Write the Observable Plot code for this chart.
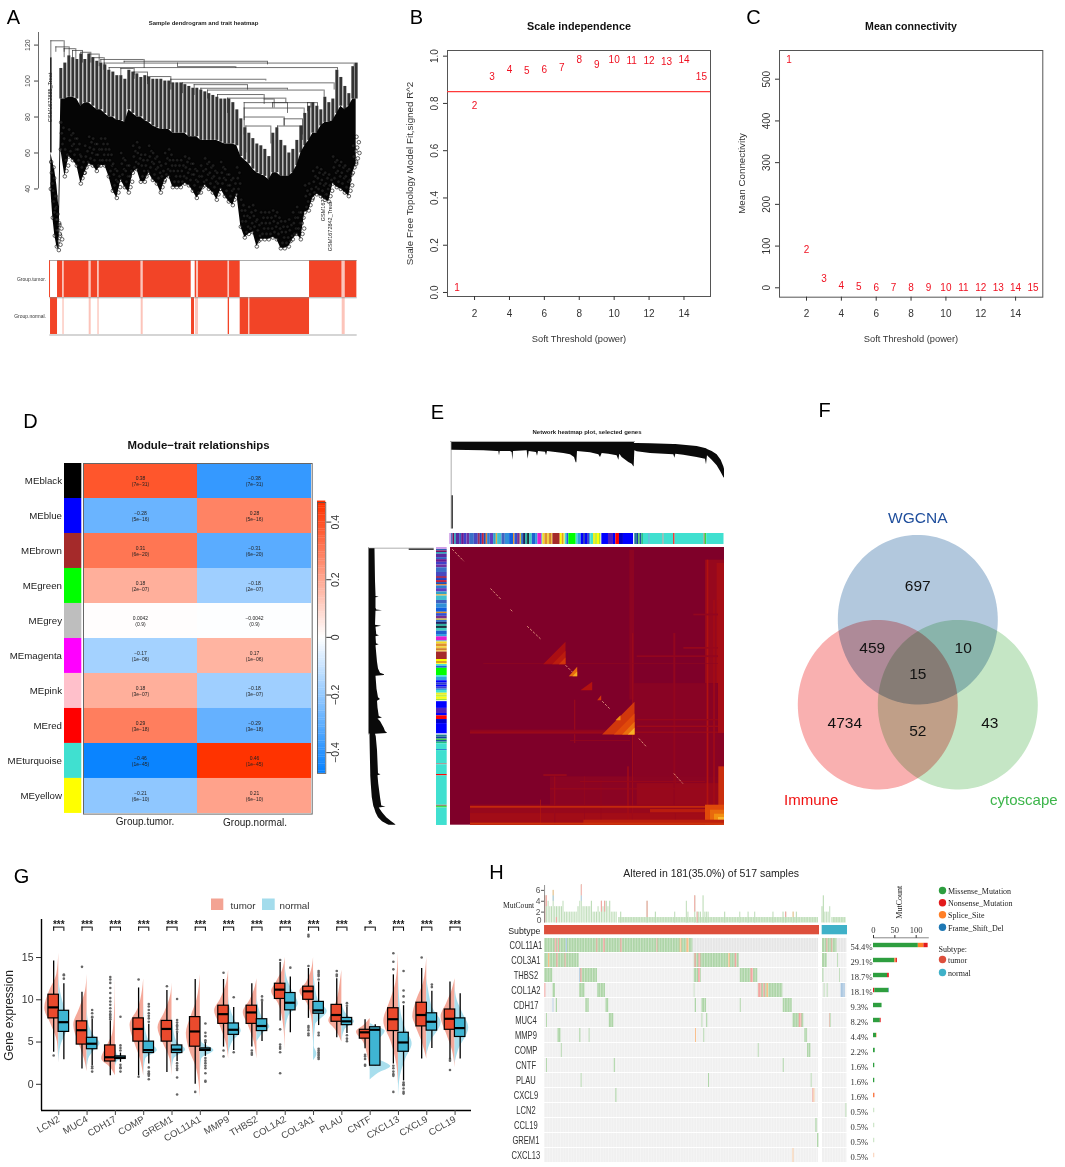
<!DOCTYPE html>
<html><head><meta charset="utf-8">
<script src="https://cdn.jsdelivr.net/npm/d3@7"></script>
<script src="https://cdn.jsdelivr.net/npm/@observablehq/plot@0.6"></script>
<style>
html,body{margin:0;padding:0;background:#fff;overflow:hidden}
#root{position:relative;width:1065px;height:1167px;overflow:hidden;background:#fff}
</style></head><body><div id="root"></div>
<script>
/* ---------- Panel A: sample dendrogram ---------- */
const leafOrder=[150,156,162,168,174,180,192,204,216,228,240,252,264,276,288,300,312,324,336,348,360,372,384,396,408,420,432,444,456,468,480,492,504,516,528,540,552,564,576,588,600,612,624,636,648,660,672,684,696,708,720,732,744,756,768,780,792,804,816,828,840,852,864,876,888,900,912,924,936,948,960,972,984,996,1008,1020,1032,1044,1056,1066];
const leafStem=[113,60,58,50,40,107,110,114,113,112,115,112,115,113,111,110,109,106,105,103,103,101,106,105,104,102,103,102,101,101,101,100,100,99,99,99,98,97,96,96,95,94,93,92,91,90,90,90,88,84,79,74,71,68,65,64,62,58,71,74,67,64,60,62,67,75,82,86,88,86,84,91,88,90,106,102,97,93,108,110];
const leafSolid=[60,55,50,42,30,90,90,91,91,90,86,88,88,86,84,84,82,80,80,78,78,77,84,82,80,80,78,77,75,74,73,73,73,71,71,71,71,69,69,69,67,67,67,67,67,66,65,65,65,64,58,56,54,51,49,48,47,45,49,49,47,47,47,49,53,60,64,67,71,71,75,77,77,78,82,86,84,86,90,90];
const leafBottom=[40,24,14,8,6,62,47,58,56,53,43,49,54,53,50,53,53,47,39,35,45,41,38,49,51,44,44,49,45,43,38,45,47,41,41,41,43,42,39,35,38,42,40,38,34,40,36,33,31,37,19,13,15,16,8,12,12,12,13,12,7,7,8,12,15,12,27,28,35,37,36,34,33,43,41,40,38,36,49,54];
// tree joins: left leaf, right leaf, join height, left drop, right drop
const treeJoins=[[150,190,122.4,113,116],[165,205,119,116,112],[190,225,118,113,112],[215,245,117,112,110],[240,270,116,110,110],[265,295,115,110,108],[275,310,113,107,106],[300,430,112,110,107],[370,800,111,110,109],[310,1060,110,106,108],[530,705,108,110,107],[325,1010,107.5,103,106],[360,400,107,103,103],[400,440,105,101,100],[440,510,102.5,98,98],[510,795,101,95,100],[545,1000,99,93,95],[580,740,98,92,95],[600,860,96,90,95],[620,970,95,90,91],[650,790,92.5,88,90],[680,855,90.5,82,88],[730,930,88,80,85],[730,910,85,78,80],[730,850,80,70,75],[735,810,75,60,65],[830,905,75,62,67],[850,905,79,75,70],[790,820,90,87,85],[815,860,88,85,82],[920,950,88,83,85]];
const traitTumor=[[148,151,1],[172,188,1],[188,192,.3],[192,267,1],[267,273,.3],[273,293,1],[293,297,.3],[297,423,1],[423,429,.3],[429,573,1],[585,590,1],[590,595,.3],[595,684,1],[684,688,.3],[688,720,1],[928,1026,1],[1026,1035,.3],[1035,1070,1]];
const traitNormal=[[151,172,1],[188,192,.3],[267,273,.3],[293,297,.3],[423,429,.3],[574,583,1],[586,595,.3],[684,688,1],[720,745,1],[745,749,.4],[749,928,1],[1026,1035,.3]];

/* ---------- Panels B, C ---------- */
const powers=[1,2,3,4,5,6,7,8,9,10,11,12,13,14,15];
const scaleFit=[.02,.788,.911,.944,.938,.941,.952,.983,.963,.983,.982,.98,.977,.986,.913];
const meanConnectivity=[547,90,21,6,1.5,.7,.4,.3,.2,.1,.1,.1,.1,.05,.05];

/* ---------- Panel D ---------- */
const modules=["MEblack","MEblue","MEbrown","MEgreen","MEgrey","MEmagenta","MEpink","MEred","MEturquoise","MEyellow"];
const moduleColors=["#000000","#0000ff","#a52a2a","#00ff00","#bebebe","#ff00ff","#ffc0cb","#ff0000","#40e0d0","#ffff00"];
const tumorCor=[.38,-.28,.31,.18,.0042,-.17,.18,.29,-.46,-.21];
const corP=["7e\u221231","5e\u221216","6e\u221220","2e\u221207","0.9","1e\u221206","3e\u221207","3e\u221218","1e\u221245","6e\u221210"];
const traits=["Group.tumor.","Group.normal."];

/* ---------- Panel E ---------- */
const dendroRank=[304,306,400,440,445,447,449,480,485,487,489,530,533,536,558,561,564,585,588,591,640,660,672,677,679,681,720,745,750,755,775,800,805,808,815,835,845,850,851,853,860,900,970,973,976,1000,1040,1065,1068,1071,1085,1100,1112,1120,1122];
const dendroTop=[3,3,3,3,3,3,3,3,3,3,3,3,3,3,3,3,3,3,3,3,3,3,3,3,3,3,3,3,3,3,3,3,3,3,3,3,3,3,3,6,6,7,9,9,9,11,15,21,22,24,30,40,56,76,83];
const dendroBottom=[26,26,28,30,30,43,30,30,33,56,30,28,53,30,33,44,30,32,43,30,36,40,48,64,64,30,34,40,48,36,38,43,56,38,48,63,68,76,76,28,31,36,40,50,38,41,48,53,70,43,56,73,93,108,110];
const moduleRunStart=[298,304,308,313,318,328,334,342,350,358,372,384,390,396,402,408,412,420,430,438,442,455,465,478,490,494,502,510,514,520,526,532,538,546,556,563,574,578,584,592,598,604,608,630,636,642,645,650,656,678,683,693,700,706,712,718,722,730,736,742,748,753,755,775,790,797,808,820,851,854,860,866,870,875,880,897,900,939,942,971,975,1062,1066,1070,1122];
const moduleRunColor=["#cfa0e8","#2a5db0","#7a1060","#1fa0b8","#5a2aa0","#3060c0","#6a1a90","#4040c8","#7030a0","#3a70c8","#4848c0","#a03060","#2040c0","#c02040","#2050b0","#e08030","#3080d0","#6040c0","#30a0c8","#e0b040","#40c0d0","#4060c0","#3090d8","#1060e0","#e09020","#3050d0","#7a3090","#d0c040","#3070c8","#202060","#30b0a0","#203040","#40d0c0","#2060d0","#30a0e0","#e020d0","#80a0d0","#f0e020","#e09030","#f0d040","#d08030","#f0c040","#a52a2a","#ffff00","#e0a020","#ffff30","#40e0d0","#2060e0","#00ff00","#40e0d0","#30a0e0","#0000ff","#3040c0","#0000ff","#4040d0","#30a0e0","#40e0d0","#f0f020","#c0f040","#ffff00","#a0e040","#ffffff","#0000ff","#5020c0","#0000ff","#ff0000","#0000cc","#0000ff","#ffffff","#208090","#1040a0","#40d040","#2050a0","#20c080","#40e0d0","#2080d0","#40e0d0","#a08080","#40e0d0","#ff0000","#40e0d0","#909070","#30e040","#40e0d0"];
// overlap blocks: gene-rank x1,x2, gene-rank y1,y2, overlap value
const overlapBlocks=[[1065,1122,480,1275,.12],[1100,1122,490,1275,.2],[850,1122,850,1275,.05],[600,1122,1130,1275,.06],[860,1122,1150,1275,.13],[360,1122,1215,1275,.13],[360,1122,1240,1275,.18],
[838,852,450,900,.07],[846,850,700,1000,.14],[1070,1075,480,1275,.26],[1090,1094,600,1275,.2],[970,976,700,1215,.1],[975,977,1122,1275,.14],[702,704,1130,1275,.12],[612,616,1130,1275,.14],[570,572,1200,1275,.28],[752,754,1140,1275,.12],[832,836,1100,1275,.2],[846,849,1000,1275,.16],[672,676,900,1030,.12],
[360,850,990,1003,.08],[360,1122,996,999,.18],[400,1122,790,792,.09],[860,1122,767,772,.1],[860,1122,958,962,.13],[860,1122,978,982,.16],[1000,1122,742,747,.13],[1030,1122,642,647,.1],[360,1122,1219,1224,.36],[600,1065,1166,1169,.15],[690,1065,1144,1147,.13],[580,650,1124,1128,.18],[660,840,1021,1023,.13],[1104,1122,600,1000,.2],
[1105,1122,1100,1275,.38],[1065,1122,1215,1275,.5],[1080,1122,1230,1275,.6],[1092,1122,1242,1275,.72],[1104,1122,1252,1275,.85],[1114,1122,1264,1275,1],[700,1122,1260,1275,.32],[360,1122,1269,1275,.4],[900,1065,1228,1238,.3]];
// hot triangles below the diagonal: left x, base y, corner x, tip y, overlap value
const hotTriangles=[[755,1003,852,905,.42],[790,1003,852,940,.5],[815,1003,852,965,.62],[832,1003,852,983,.82],[578,792,645,725,.22],[605,792,645,752,.3],[625,792,645,772,.42],[655,828,680,800,.6],[666,828,680,814,.8],[690,870,725,845,.26],[740,900,752,885,.42],[795,960,810,945,.7]];
// dashed runs along the diagonal: x1,y1,x2,y2
const diagonalRuns=[[305,447,340,483],[420,565,452,598],[480,628,488,636],[530,678,570,716],[645,795,665,815],[755,903,780,928],[865,1015,888,1040],[970,1120,997,1150]];

/* ---------- Panel F ---------- */
const vennCx=[917.3,877.3,957.3], vennCy=[619.2,704.2,704.2], vennFill=["#b2c8dd","#f9b0b0","#c5e6c5"];

/* ---------- Panel G ---------- */
const genes=["LCN2","MUC4","CDH17","COMP","GREM1","COL11A1","MMP9","THBS2","COL1A2","COL3A1","PLAU","CNTF","CXCL13","CXCL9","CCL19"];
const stars=["***","***","***","***","***","***","***","***","***","***","***","*","***","***","***"];
const tumorLow=[3.8,1.8,1,1,1.4,0,4.4,4.4,7.5,7.8,5.5,4.2,2.4,3,3];
const tumorQ1=[7.8,4.7,2.7,5.05,5.05,4.45,7.15,7.15,10.1,10,7.4,5.4,6.3,6.85,6.45];
const tumorMedian=[9.1,6.4,3.2,6.55,6.55,6.25,8.3,8.5,11.2,11,8.2,6.15,7.7,8.2,7.75];
const tumorQ3=[10.6,7.45,4.6,7.8,7.5,7.95,9.3,9.3,11.9,11.55,9.4,6.45,9,9.65,8.85];
const tumorHigh=[14.6,10.9,7.5,11.4,11.1,12.4,12.4,11.9,14.4,13.7,12.5,7.65,12.95,13.7,12.1];
const normalLow=[2.9,2.2,2.6,2.4,2.7,3.3,4,5.05,6.1,6.95,6,2.2,.4,4.25,3];
const normalQ1=[6.2,4.15,3,3.7,3.7,3.95,5.85,6.3,8.75,8.35,7,2.2,3.85,6.35,5.6];
const normalMedian=[7.35,4.8,3.15,4.05,4.1,4.1,6.45,6.9,9.65,8.75,7.45,6.45,4.95,7.4,6.65];
const normalQ3=[8.7,5.5,3.3,5.05,4.6,4.25,7.2,7.7,10.8,9.75,7.85,6.75,6.1,8.4,7.8];
const normalHigh=[11.9,7.7,3.7,7.1,6,4.9,9.1,9.7,12.7,12.1,9.1,7.05,9.3,11,10.7];
const tumorOutliers=[[3.4],[13.9],[7.7,7.9,8.1,8.3,8.6,9,9.4,9.8,10.2,10.8,11.4,12,12.4,12.7],[12.4,.9],[11.6],[-.9],[13.2,4,3.3],[4,3.7,3.5],[14.7,6.5,4.7,4.4,4.2,3.8,1.3],[17.7,17.5,14,6.9,6.7,6.4,6,5.8],[13.4,13,12.8],[3.5,3.3,3,2.3,2.2],[15.5,14.5,13.6,2.2,1.9,1.5,1.2,1,-.9],[15],[3,2.8,1.7]];
const normalOutliers=[[12.5,12.9,13],[8.8,8.4,8,7.9,2.1,1.9,1.5],[4.6,4.3,4,2.3,2,1.9,1.5,8],[7.4,7.8,8.1,8.4,8.8,9.2,9.5,2,1.5,1.3,1.2,1,.6],[6.2,6.5,6.8,7,7.3,7.6,10.1,2.5,2.2,1.9,1.7,.8,-1.2],[7.2,6.1,5.7,5.2,5,3.1,2.8,2.5,2.2,1.9,1.3,.4,.3],[10.3,3.8],[10.4,10,9.9],[13.8],[13.4,13.2,13,12.8,12.4,6.1,5.8,4.2,4,3.8,3.6,3.4,3.2,3],[9.6,9.3,5.8,5.4,5.1],[],[13.4,11.1,10.4,9.7,.2,0,-.1,-.5,-.9,-1.1],[11.8,11.5],[]];
const tumorViolinY=[[2.5,5,7,9,11,13,15.5],[1.5,3,5,7,9,11,13],[1,2,3,4.5,6,8,12.5],[1,3,5,7,9,11,12.5],[1,3,5,6.7,8.5,10.5,12],[-1.5,2,4,6,8,10,13],[3,5,7,8.7,10,12,13.5],[3,5,7,8.5,10,11.5,12.5],[4,7,9.5,11,12,13.5,15],[5,8,9.5,11,12,13.5,15],[5,6.5,7.5,8.5,10,12,13.5],[1.8,3.5,5,6.2,7,7.8],[0,3,5,7.5,9.5,12,15.5],[3,5,7,8,10,12,15],[2,4,6,8,9.5,11,12.5]];
const tumorViolinD=[[0,4,22,42,28,6,0],[0,8,26,40,22,5,0],[0,15,41,25,8,3,0],[0,10,28,41,16,4,0],[0,6,28,42,22,4,0],[0,12,32,42,28,10,0],[0,8,26,42,25,6,0],[0,8,26,41,20,5,0],[0,5,20,41,28,8,0],[0,6,18,41,22,6,0],[0,20,39,28,14,5,0],[0,8,20,41,18,0],[0,8,22,44,28,8,0],[0,14,34,42,30,10,0],[0,8,26,42,26,10,0]];
const normalViolinY=[[2.5,4.5,6,7.2,9,11,13],[1.5,3,4,4.8,5.8,7,9],[2,2.7,3.1,3.5,4.5],[1,3,4,5,7,9.5],[1.5,3,4.1,5,7,8],[1,3,4,5,7],[3.5,5,6.3,7.5,9,10.5],[5,6,6.8,7.8,9,10.5],[6,8,9.5,11,12.5,14],[2.8,3.6,4.5,7,8.6,10,12,13.5],[5,6.5,7.4,8.2,9.5],[.5,1.3,2.1,3,4,5,6.3,7,7.2],[-1.5,1,3,4.8,6.5,9,13.5],[3.5,5,7.3,9,11,12.5],[2.5,4,6.7,8.5,10,11.5]];
const normalViolinD=[[0,6,22,31,18,5,0],[0,5,22,39,20,6,0],[0,6,31,6,0],[0,6,41,18,4,0],[0,6,41,15,3,0],[0,4,41,4,0],[0,12,38,20,5,0],[0,18,39,18,6,0],[0,10,39,22,6,0],[0,10,2,6,41,14,4,0],[0,10,38,16,0],[0,25,62,25,14,22,45,10,0],[0,6,22,41,22,6,0],[0,12,43,18,6,0],[0,10,41,22,6,0]];

/* ---------- Panel H ---------- */
const onco=["COL11A1","COL3A1","THBS2","COL1A2","CDH17","MUC4","MMP9","COMP","CNTF","PLAU","CXCL9","LCN2","CCL19","GREM1","CXCL13"];
const altered=["54.4%","29.1%","18.7%","18.1%","9.3%","8.2%","4.4%","2.2%","1.6%","1.6%","1.6%","0.5%","0.5%","0.5%","0.5%"];
const mutPale={m:"#aed5a8",n:"#f3a5a1",s:"#f9bf8c",f:"#a9c6e0"};
const mutSolid={m:"#2e9e3f",n:"#e31a1c",s:"#ff7f27",f:"#1f78b4"};
const oncoRuns={
COL11A1:[[163,608,"m"],[195,200,"n"],[205,208,"n"],[228,232,"f"],[320,323,"n"],[340,345,"n"],[392,396,"n"],[500,503,"n"],[570,575,"s"],[590,597,"s"],[997,1040,"m"],[1010,1013,"n"],[1025,1028,"n"]],
COL3A1:[[163,267,"m"],[175,179,"s"],[200,204,"n"],[225,228,"n"],[612,747,"m"],[614,618,"n"],[626,632,"n"],[715,720,"s"],[735,740,"n"],[997,1011,"m"],[1042,1045,"m"]],
THBS2:[[163,188,"m"],[268,322,"m"],[268,272,"f"],[272,276,"n"],[612,633,"m"],[625,631,"n"],[750,803,"m"],[782,790,"n"],[998,1001,"m"],[1048,1050,"m"]],
COL1A2:[[163,167,"n"],[188,196,"m"],[268,285,"m"],[322,346,"m"],[612,614,"m"],[804,878,"m"],[805,815,"n"],[820,825,"n"],[830,835,"s"],[1002,1005,"m"],[1011,1014,"m"],[1052,1065,"f"]],
CDH17:[[188,191,"f"],[198,202,"m"],[287,297,"m"],[347,356,"m"],[615,619,"m"],[635,649,"m"],[750,753,"m"],[879,906,"m"]],
MUC4:[[169,172,"m"],[357,371,"m"],[635,638,"m"],[649,653,"m"],[908,941,"m"],[927,935,"n"],[1018,1023,"m"],[1018,1020,"n"]],
MMP9:[[203,213,"m"],[268,272,"m"],[297,300,"m"],[616,619,"s"],[641,644,"m"],[944,952,"m"]],
COMP:[[213,216,"m"],[804,807,"m"],[952,962,"m"]],
CNTF:[[169,172,"m"],[372,376,"m"],[879,882,"m"]],
PLAU:[[273,276,"m"],[655,658,"m"],[963,966,"m"]],
CXCL9:[[377,381,"m"],[968,971,"n"],[971,974,"s"]],
LCN2:[[1067,1070,"m"]],
CCL19:[[977,982,"m"]],
GREM1:[[982,986,"m"]],
CXCL13:[[908,911,"s"]]};
const mutBarsX=[165,170,175,180,185,190,195,200,205,210,215,220,225,230,235,240,245,250,255,260,265,270,275,280,285,290,295,300,305,310,315,320,325,330,335,340,345,350,355,360,365,370,375,380,393,472,497,555,590,595,615,622,627,632,640,645,650,655,705,750,775,795,850,880,888,910,920,997,1001,1005,1010,1015,1020];
const mutBarsN=[5,5,4,3,3,6,3,3,3,3,3,4,2,2,2,2,2,2,2,2,3,4,7,3,3,3,3,3,4,2,2,2,3,2,4,3,4,4,3,4,2,2,2,2,2,4,2,2,4,2,5,2,2,2,5,2,2,2,2,2,2,2,2,2,2,2,2,3,5,2,2,2,3];
const mutBarsBase=[[385,985,1],[1025,1068,1]];
const mutAccents=[[170,3,5,"n"],[190,4,5,"f"],[190,5,6,"s"],[200,0,1,"n"],[275,4,5,"f"],[275,5,7,"n"],[335,2,4,"n"],[345,2,4,"n"],[472,1,4,"n"],[615,2,5,"n"],[622,0,2,"n"],[888,1,2,"n"],[910,1,2,"s"],[165,0,5,"n"]];
const cohortTotals={COL11A1:[[105,"m"],[13,"s"],[10,"n"]],COL3A1:[[50,"m"],[3,"s"],[3,"n"]],THBS2:[[33,"m"],[4,"n"]],COL1A2:[[3,"n"],[33,"m"],[1,"f"]],CDH17:[[20,"m"]],MUC4:[[16,"m"],[2,"n"]],MMP9:[[7,"m"],[1,"s"]],COMP:[[4,"m"]],CNTF:[[3,"m"]],PLAU:[[3,"m"]],CXCL9:[[2,"s"],[1,"n"]],LCN2:[[3,"p"]],CCL19:[[3,"p"]],GREM1:[[3,"p"]],CXCL13:[[3,"q"]]};

/* ---------- helpers ---------- */
const root=document.getElementById("root");
const sans="Liberation Sans, Arial, sans-serif";
const serif="Liberation Serif, Times New Roman, serif";
function place(left,top,spec){
  const p=Plot.plot({margin:0,style:{background:"transparent",overflow:"visible",fontFamily:sans},...spec});
  p.style.position="absolute";p.style.left=left+"px";p.style.top=top+"px";p.style.maxWidth="none";
  root.append(p);
  return p;
}

/* ---------- A ---------- */
const leaves=leafOrder.map((x,i)=>({x,stem:leafStem[i],solid:leafSolid[i],bottom:leafBottom[i]}));
const leafRings=leaves.flatMap(d=>[0,1,2,3,4,5].map(k=>({x:d.x+(k*5)%12,y:d.bottom+k*3})));
place(37.7,32,{width:319,height:223,x:{domain:[113,1070],axis:null},y:{domain:[3,127],axis:null},marks:[
  Plot.ruleX(leaves.filter(d=>d.x>=180),{x:"x",y1:"stem",y2:"solid",stroke:"#111",strokeWidth:3,strokeOpacity:.85}),
  Plot.ruleX([150],{y1:113,y2:60,stroke:"#222",strokeWidth:1.6}),
  Plot.ruleY(treeJoins,{x1:d=>d[0],x2:d=>d[1],y:d=>d[2],stroke:"#333",strokeWidth:.7}),
  Plot.ruleX(treeJoins,{x:d=>d[0],y1:d=>d[2],y2:d=>d[3],stroke:"#333",strokeWidth:.7}),
  Plot.ruleX(treeJoins,{x:d=>d[1],y1:d=>d[2],y2:d=>d[4],stroke:"#333",strokeWidth:.7}),
  Plot.areaY(leaves,{x:"x",y1:"solid",y2:"bottom",fill:"#050505"}),
  Plot.dot(leafRings,{x:"x",y:"y",r:1.8,stroke:"#000",strokeWidth:.6,fill:"#fff",fillOpacity:.1}),
  Plot.ruleX([113],{y1:40,y2:127,stroke:"#444",strokeWidth:.8}),
  Plot.axisY({ticks:[40,60,80,100,120],tickSize:4,tickRotate:-90,fontSize:7,color:"#444",label:null,tickPadding:5})
]});
const traitRows=[...traitTumor.map(d=>({x1:d[0],x2:d[1],v:d[2],row:"Group.tumor."})),...traitNormal.map(d=>({x1:d[0],x2:d[1],v:d[2],row:"Group.normal."}))];
place(49.3,260,{width:307.4,height:74.5,x:{domain:[148,1070],axis:null},y:{type:"band",domain:traits,padding:0,axis:null},
  color:{type:"identity"},marks:[
  Plot.barX(traitRows,{x1:"x1",x2:"x2",y:"row",fill:d=>d.v==1?"#f24427":"#fcc4ba"}),
  Plot.text(traits,{y:d=>d,text:d=>d,frameAnchor:"left",textAnchor:"end",dx:-3.5,fontSize:5,fill:"#333"})
]});

/* ---------- B, C ---------- */
const rAxes=(yt)=>[
  Plot.frame({stroke:"#555",strokeWidth:1}),
  Plot.axisX({ticks:[2,4,6,8,10,12,14],tickSize:4,tickPadding:9,fontSize:10,color:"#333",label:null}),
  Plot.axisY({ticks:yt,tickSize:4,tickPadding:6,tickRotate:-90,fontSize:10,color:"#333",label:null})
];
place(447.3,50,{width:263,height:246,x:{domain:[.45,15.52],axis:null},y:{domain:[-.017,1.024],axis:null},marks:[
  ...rAxes([0,.2,.4,.6,.8,1]),
  Plot.ruleY([.85],{stroke:"#ff3a3a",strokeWidth:1.1}),
  Plot.text(powers,{x:d=>d,y:(d,i)=>scaleFit[i],text:d=>String(d),fill:"#f01020",fontSize:10})
]});
place(779,50,{width:263.3,height:246.7,x:{domain:[.45,15.56],axis:null},y:{domain:[-22.5,568.8],axis:null},marks:[
  ...rAxes([0,100,200,300,400,500]),
  Plot.text(powers,{x:d=>d,y:(d,i)=>meanConnectivity[i],text:d=>String(d),fill:"#f01020",fontSize:10})
]});

/* ---------- D ---------- */
const corColor={type:"linear",domain:[-.46,0,.46],range:["#0a84ff","#ffffff","#ff3300"]};
place(64,462.7,{width:17.3,height:350.6,x:{axis:null,domain:[0,1]},y:{type:"band",domain:modules,padding:0,axis:null},color:{type:"identity"},marks:[
  Plot.barX(modules,{x1:0,x2:1,y:d=>d,fill:(d,i)=>moduleColors[i]}),
  Plot.text(modules,{y:d=>d,text:d=>d,frameAnchor:"left",textAnchor:"end",dx:-2.5,fontSize:9.7,fill:"#222"})
]});
const fmtCor=v=>(v<0?"\u2212":"")+(Math.abs(v)<.01?Math.abs(v).toFixed(4):String(+Math.abs(v).toFixed(2)));
const corCells=modules.flatMap((m,i)=>[{m,t:traits[0],r:tumorCor[i],p:corP[i]},{m,t:traits[1],r:-tumorCor[i],p:corP[i]}]);
place(83.3,462.7,{width:228.7,height:350.6,x:{type:"band",domain:traits,padding:0,axis:null},y:{type:"band",domain:modules,padding:0,axis:null},color:corColor,marks:[
  Plot.cell(corCells,{x:"t",y:"m",fill:"r"}),
  Plot.text(corCells,{x:"t",y:"m",text:d=>fmtCor(d.r)+"\n("+d.p+")",fontSize:5,lineHeight:1.3,fill:"#222"}),
  Plot.frame({stroke:"#666",strokeWidth:1})
]});
const barLevels=d3.range(-.472,.468,.008);
place(317,502,{width:8.3,height:271,x:{domain:[0,1],axis:null},y:{domain:[-.472,.468],axis:null},color:corColor,marks:[
  Plot.rect(barLevels,{x1:0,x2:1,y1:d=>d,y2:d=>d+.009,fill:d=>d+.004}),
  Plot.frame({stroke:"#555",strokeWidth:.8}),
  Plot.axisY({anchor:"right",ticks:[-.4,-.2,0,.2,.4],tickFormat:d=>d===0?"0":d3.format(".1f")(d).replace("-","\u2212"),tickSize:5,tickPadding:8,tickRotate:-90,fontSize:10.5,color:"#333",label:null})
]});

/* ---------- E ---------- */
const dendroRows=dendroRank.map((r,i)=>({r,t:dendroTop[i],b:dendroBottom[i]}));
place(450,440.7,{width:274,height:87.6,x:{domain:[300,1122],axis:null},y:{domain:[263,0],axis:null},marks:[
  Plot.ruleY([0],{x1:300,x2:855,stroke:"#999",strokeWidth:.8}),
  Plot.ruleX([302],{y1:0,y2:263,stroke:"#999",strokeWidth:.8}),
  Plot.ruleX([305],{y1:163,y2:263,stroke:"#111",strokeWidth:1.2}),
  Plot.areaY(dendroRows,{x:"r",y1:"t",y2:"b",fill:"#0a0a0a"})
]});
place(367.7,547.3,{width:65.7,height:277.7,x:{domain:[0,263],axis:null},y:{domain:[1122,300],axis:null},marks:[
  Plot.ruleX([0],{y1:300,y2:855,stroke:"#999",strokeWidth:.8}),
  Plot.ruleY([302],{x1:0,x2:263,stroke:"#999",strokeWidth:.8}),
  Plot.ruleY([305],{x1:163,x2:263,stroke:"#111",strokeWidth:1.2}),
  Plot.areaX(dendroRows,{y:"r",x1:"t",x2:"b",fill:"#0a0a0a"})
]});
const runRows=moduleRunColor.map((c,i)=>({a:moduleRunStart[i],b:moduleRunStart[i+1],c}));
place(449.3,533.3,{width:274.7,height:11,x:{domain:[298,1122],axis:null},y:{domain:[0,1],axis:null},color:{type:"identity"},marks:[
  Plot.rect(runRows,{x1:"a",x2:"b",y1:0,y2:1,fill:"c"})]});
place(436,546.7,{width:10.7,height:278.3,x:{domain:[0,1],axis:null},y:{domain:[1122,298],axis:null},color:{type:"identity"},marks:[
  Plot.rect(runRows,{y1:"a",y2:"b",x1:0,x2:1,fill:"c"})]});
const heatDomain=[0,.25,.5,.75,1], heatRange=["#7f0029","#b01010","#e04a0a","#f59a12","#ffe860"];
const heatFill=d3.scaleLinear(heatDomain,heatRange);
place(450,547.3,{width:274,height:277.7,x:{domain:[300,1122],axis:null},y:{domain:[1275,442],axis:null},color:{type:"linear",domain:heatDomain,range:heatRange},marks:[
  Plot.rect([0],{x1:300,x2:1122,y1:442,y2:1275,fill:()=>0}),
  Plot.rect(overlapBlocks,{x1:d=>d[0],x2:d=>d[1],y1:d=>d[2],y2:d=>d[3],fill:d=>d[4]}),
  ...hotTriangles.map(t=>Plot.line([[t[0],t[1]],[t[2],t[1]],[t[2],t[3]],[t[0],t[1]]],{x:d=>d[0],y:d=>d[1],fill:heatFill(t[4]),stroke:"none"})),
  Plot.link(diagonalRuns,{x1:d=>d[0],y1:d=>d[1],x2:d=>d[2],y2:d=>d[3],stroke:"#eea888",strokeWidth:.8,strokeDasharray:"2.5,1.5"})
]});

/* ---------- F ---------- */
const ellipse=(cx,cy)=>d3.range(0,6.3,.05).map(t=>[cx+80*Math.cos(t),cy+84.8*Math.sin(t)]);
place(0,0,{width:1065,height:1167,x:{domain:[0,1065],axis:null},y:{domain:[1167,0],axis:null},
  marks:vennCx.map((cx,i)=>Plot.line(ellipse(cx,vennCy[i]),{x:d=>d[0],y:d=>d[1],fill:vennFill[i],stroke:"none",mixBlendMode:"multiply"}))});

/* ---------- G ---------- */
const violin=(ys,ds,sign,grp)=>ys.flatMap((arr,g)=>arr.map((y,k)=>({id:grp+g,g,y,base:g,edge:g+sign*ds[g][k]/85})));
const vT=violin(tumorViolinY,tumorViolinD,-1,"t"), vN=violin(normalViolinY,normalViolinD,1,"n");
const boxes=genes.flatMap((g,i)=>[
 {i,c:i-.18,lo:tumorLow[i],q1:tumorQ1[i],m:tumorMedian[i],q3:tumorQ3[i],hi:tumorHigh[i],fill:"#ea4a2d"},
 {i,c:i+.18,lo:normalLow[i],q1:normalQ1[i],m:normalMedian[i],q3:normalQ3[i],hi:normalHigh[i],fill:"#3fb5d3"}]);
const outs=[...tumorOutliers.flatMap((a,i)=>a.map(v=>({x:i-.18,v}))),...normalOutliers.flatMap((a,i)=>a.map(v=>({x:i+.18,v})))];
const idx=genes.map((_,i)=>i);
place(41,919,{width:430,height:191,x:{domain:[-.61,14.58],axis:null},y:{domain:[-3.1,19.5],axis:null},color:{type:"identity"},marks:[
  Plot.areaX(vT,{y:"y",x1:"base",x2:"edge",z:"id",fill:"#f3a393",fillOpacity:.95,curve:"monotone-y"}),
  Plot.areaX(vN,{y:"y",x1:"base",x2:"edge",z:"id",fill:"#a3dcec",fillOpacity:.95,curve:"monotone-y"}),
  Plot.dot(outs,{x:"x",y:"v",r:1.3,fill:"#666",stroke:null}),
  Plot.ruleX(boxes,{x:"c",y1:"lo",y2:"hi",stroke:"#000",strokeWidth:1.3}),
  Plot.rect(boxes,{x1:d=>d.c-.185,x2:d=>d.c+.185,y1:"q1",y2:"q3",fill:"fill",stroke:"#000",strokeWidth:1.2}),
  Plot.ruleY(boxes,{x1:d=>d.c-.185,x2:d=>d.c+.185,y:"m",stroke:"#000",strokeWidth:2.2}),
  Plot.ruleY(idx,{x1:d=>d-.18,x2:d=>d+.18,y:()=>18.6,stroke:"#000",strokeWidth:1}),
  Plot.ruleX(idx,{x:d=>d-.18,y1:18.1,y2:18.6,stroke:"#000",strokeWidth:1}),
  Plot.ruleX(idx,{x:d=>d+.18,y1:18.1,y2:18.6,stroke:"#000",strokeWidth:1}),
  Plot.text(idx,{x:d=>d,y:()=>18.9,text:d=>stars[d],fontSize:10,fontWeight:"bold",fill:"#222"}),
  Plot.ruleX([-.61],{stroke:"#000",strokeWidth:1.4}),
  Plot.ruleY([-3.1],{stroke:"#000",strokeWidth:1.4}),
  Plot.axisY({ticks:[0,5,10,15],tickSize:5,tickPadding:3,fontSize:10.5,color:"#333",label:null}),
  Plot.axisX({ticks:idx,tickFormat:d=>genes[d],tickSize:5,tickPadding:3,tickRotate:-30,fontSize:9.5,color:"#444",label:null})
]});

/* ---------- H ---------- */
const oncoBand={type:"band",domain:onco,padding:.07,axis:null};
const bgRows=onco.flatMap(g=>[{g,a:163,b:985},{g,a:997,b:1070}]);
const runs=onco.flatMap(g=>oncoRuns[g].map(d=>({g,a:d[0],b:d[1],f:mutPale[d[2]]})));
const gridLines=d3.range(163,1070,8);
const hMain=place(544.3,937.3,{width:302.4,height:226.8,x:{domain:[163,1070],axis:null},y:oncoBand,color:{type:"identity"},marks:[
  Plot.barX(bgRows,{x1:"a",x2:"b",y:"g",fill:(d)=>d.g=="COL11A1"?"#e6e6e6":"#f0f0f0"}),
  Plot.barX(runs,{x1:"a",x2:"b",y:"g",fill:"f"}),
  Plot.ruleX(gridLines.filter(x=>x<985||x>997),{x:d=>d,stroke:"#fff",strokeWidth:.6,strokeOpacity:.6}),
  Plot.text(onco,{y:d=>d,text:d=>d,frameAnchor:"left",textAnchor:"middle",dx:-18.6,fontSize:10,fontFamily:sans,fill:"#333"}),
  Plot.text(onco,{y:d=>d,text:(d,i)=>altered[i],frameAnchor:"right",textAnchor:"start",dx:3.5,dy:2,fontSize:8.6,fontFamily:serif,fill:"#333"})
]});
// gene labels are horizontally condensed in the reference
hMain.querySelectorAll("text").forEach(t=>{
  if(onco.includes(t.textContent)){t.setAttribute("textLength",t.getComputedTextLength()*.76);t.setAttribute("lengthAdjust","spacingAndGlyphs");}
});
const subtypeRows=[{a:163,b:988,f:"#dd4f3c"},{a:996,b:1072,f:"#3fb1c8"}];
place(544.3,924.7,{width:302.4,height:9.3,x:{domain:[163,1070],axis:null},y:{domain:[0,1],axis:null},color:{type:"identity"},marks:[
  Plot.rect(subtypeRows,{x1:"a",x2:"b",y1:0,y2:1,fill:"f"})]});
place(544.3,885.2,{width:302.4,height:37.5,x:{domain:[163,1070],axis:null},y:{domain:[0,6.9],axis:null},color:{type:"identity"},marks:[
  Plot.rect(mutBarsBase,{x1:d=>d[0],x2:d=>d[1],y1:0,y2:d=>d[2],fill:"#c3e0bd"}),
  Plot.rect(mutBarsX,{x1:d=>d-1.7,x2:d=>d+1.7,y1:0,y2:(d,i)=>mutBarsN[i],fill:"#bcdcb6"}),
  Plot.rect(mutAccents,{x1:d=>d[0]-1.7,x2:d=>d[0]+1.7,y1:d=>d[1],y2:d=>d[2],fill:d=>mutPale[d[3]]}),
  Plot.ruleX(gridLines.filter(x=>x<985||x>997),{x:d=>d,stroke:"#fff",strokeWidth:.6,strokeOpacity:.6}),
  Plot.ruleX([163],{y1:0,y2:6.9,stroke:"#666",strokeWidth:.7}),
  Plot.axisY({ticks:[2,4,6],tickFormat:d=>String(d),tickSize:3,tickPadding:1,fontSize:8.5,color:"#555",label:null})
]});
const totalColors={...mutSolid,p:"#cfe6cb",q:"#fbd9c4"};
const totalRows=onco.flatMap(g=>cohortTotals[g].map(d=>({g,v:d[0],f:totalColors[d[1]]})));
place(873.3,937.3,{width:55.5,height:226.8,x:{domain:[0,130],axis:null},y:oncoBand,color:{type:"identity"},marks:[
  Plot.barX(totalRows,Plot.stackX({x:"v",y:"g",fill:"f",insetTop:4.8,insetBottom:4.8})),
  Plot.axisX({anchor:"top",ticks:[0,50,100],tickSize:3,tickPadding:2,fontSize:8.6,fontFamily:serif,color:"#333",label:null})
]});

/* ---------- page text, legends ---------- */
const letters=[["A",13,23],["B",416,23],["C",753,23],["D",30,427],["E",437,418],["F",824,416],["G",21,882],["H",496,878]];
const L=(text,x,y,fontSize,o={})=>Plot.text([{x,y}],{x:"x",y:"y",text:()=>text,fontSize,...o});
const legendMut=[["Missense_Mutation",890,mutSolid.m],["Nonsense_Mutation",902.3,mutSolid.n],["Splice_Site",914.3,mutSolid.s],["Frame_Shift_Del",926.7,mutSolid.f]];
const legendSub=[["tumor",959,"#dd4f3c"],["normal",972,"#3fb1c8"]];
const vlabels=[["697",917.3,585.7],["459",871.7,647.7],["10",962.7,647.7],["15",917.3,673.3],["4734",844.3,722.7],["52",917.3,730.7],["43",989.3,722.7]];
const gsm=[["GSM1672842_Treat",329.5,226],["GSM1672...",322.7,206],["GSM1672885_Treat",49.5,97]];
place(0,0,{width:1065,height:1167,x:{domain:[0,1065],axis:null},y:{domain:[1167,0],axis:null},color:{type:"identity"},marks:[
  Plot.ruleY([260,297.25,334.5],{x1:49.3,x2:356.7,stroke:"#888",strokeWidth:.7}),
  Plot.ruleY([937.3],{x1:873.3,x2:928.8,stroke:"#555",strokeWidth:.7}),
  ...letters.map(d=>L(d[0],d[1],d[2],20,{lineAnchor:"bottom",fill:"#000"})),
  L("Sample dendrogram and trait heatmap",203,22.7,6,{fontWeight:"bold",fill:"#222"}),
  ...gsm.map(d=>L(d[0],d[1],d[2],5.5,{rotate:-90,fill:"#222"})),
  L("Scale independence",578.5,26,10.8,{fontWeight:"bold",fill:"#111"}),
  L("Soft Threshold (power)",578.5,338.7,9.3,{fill:"#333"}),
  L("Scale Free Topology Model Fit,signed R^2",409,173,9.8,{rotate:-90,fill:"#333"}),
  L("Mean connectivity",910.5,26,10.6,{fontWeight:"bold",fill:"#111"}),
  L("Soft Threshold (power)",910.5,338.7,9.3,{fill:"#333"}),
  L("Mean Connectivity",741,173,9.8,{rotate:-90,fill:"#333"}),
  L("Module\u2212trait relationships",198,445,11.4,{fontWeight:"bold",fill:"#111"}),
  L("Group.tumor.",144.5,821.7,10,{fill:"#222"}),
  L("Group.normal.",254.5,822,10,{fill:"#222"}),
  L("Network heatmap plot, selected genes",586.5,432,6,{fontWeight:"bold",fill:"#222"}),
  L("WGCNA",917.3,517.7,15.5,{fill:"#1f4e9c"}),
  L("Immune",810.7,800,15,{fill:"#f01010"}),
  L("cytoscape",1023.3,800,15,{fill:"#3cb54a"}),
  ...vlabels.map(d=>L(d[0],d[1],d[2],15.5,{fill:"#111"})),
  Plot.rect([{a:211,b:223.3,f:"#f3a393"},{a:262,b:274.7,f:"#a3dcec"}],{x1:"a",x2:"b",y1:898.5,y2:910,fill:"f"}),
  L("tumor",242.5,905,9.8,{fill:"#333"}),
  L("normal",294,905,9.8,{fill:"#333"}),
  L("Gene expression",8.5,1015,12,{rotate:-90,fill:"#222"}),
  L("Altered in 181(35.0%) of 517 samples",710.7,872.7,10.5,{fill:"#222"}),
  L("MutCount",518,905,7.6,{fontFamily:serif,fill:"#222"}),
  L("0",538.5,920,8.5,{fill:"#555"}),
  L("Subtype",540,930.5,8.8,{textAnchor:"end",fill:"#222"}),
  L("MutCount",899.3,901.7,8,{rotate:-90,fontFamily:serif,fill:"#222"}),
  Plot.dot(legendMut,{x:()=>942,y:d=>d[1],r:3.7,fill:d=>d[2],stroke:null}),
  ...legendMut.map(d=>L(d[0],947.5,d[1]+1,8,{textAnchor:"start",fontFamily:serif,fill:"#222"})),
  L("Subtype:",938,949,8,{textAnchor:"start",fontFamily:serif,fill:"#222"}),
  Plot.dot(legendSub,{x:()=>942,y:d=>d[1],r:3.7,fill:d=>d[2],stroke:null}),
  ...legendSub.map(d=>L(d[0],947.5,d[1]+1,8,{textAnchor:"start",fontFamily:serif,fill:"#222"}))
]});
</script></body></html>
